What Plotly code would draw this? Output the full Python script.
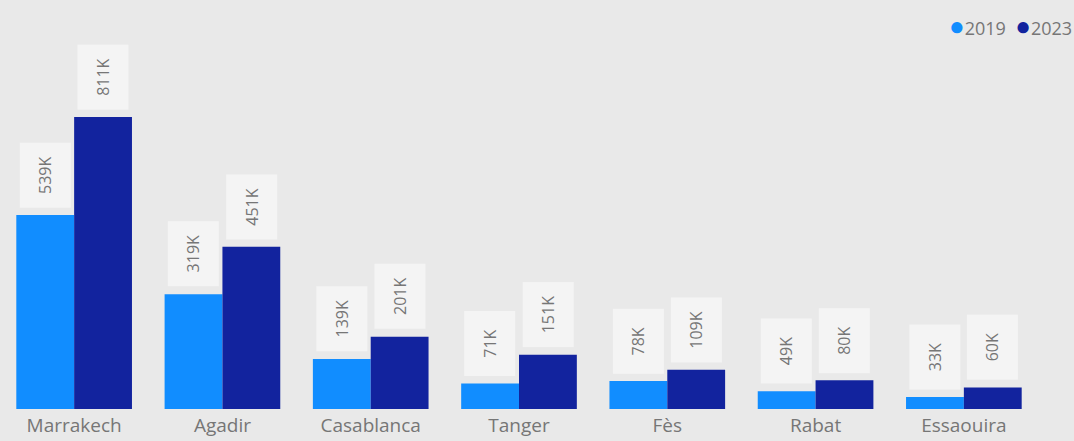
import plotly.graph_objects as go

# Visitors per city, 2019 vs 2023 (thousands)
cities = ["Marrakech", "Agadir", "Casablanca", "Tanger", "Fès", "Rabat", "Essaouira"]
visits_2019 = [539, 319, 139, 71, 78, 49, 33]
visits_2023 = [811, 451, 201, 151, 109, 80, 60]
years = ["2019", "2023"]

colors = {"2019": "#118DFF", "2023": "#12239E"}
bg = "#e9e9e9"
font_family = "Open Sans, Noto Sans, sans-serif"
grey = "#767676"

W, H = 1074, 441
margin = dict(l=0, r=36, t=80, b=32)
bargap = 0.22

traces = []
for year, vals in zip(years, [visits_2019, visits_2023]):
    traces.append(go.Bar(x=cities, y=vals, name=year, marker=dict(color=colors[year], line=dict(width=0)),
                         showlegend=False, hoverinfo="skip"))

fig = go.Figure(traces)

# value labels, rotated, with light box
band = (W - margin["l"] - margin["r"]) / len(cities)
half = band * (1 - bargap) / 4
for year, vals, shift in zip(years, [visits_2019, visits_2023], [-half, half]):
    for c, v in zip(cities, vals):
        fig.add_annotation(x=c, y=v, text=f"{v}K", textangle=-90, showarrow=False,
                           xshift=shift, yshift=7, yanchor="bottom", xanchor="center",
                           width=58, height=44, align="center", valign="middle",
                           bgcolor="#f4f4f4", borderpad=3,
                           font=dict(size=16, color=grey, family=font_family))

# legend drawn as text with coloured dots
legend_text = "  ".join(f"<span style='color:{colors[y]};font-size:26px'>●</span>{y}" for y in years)
fig.add_annotation(xref="paper", yref="paper", x=1.0, xshift=margin["r"], y=1.0, yshift=55,
                   xanchor="right", yanchor="middle", showarrow=False, text=legend_text,
                   font=dict(size=18, color=grey, family=font_family))

fig.update_layout(
    width=W, height=H,
    margin=margin,
    paper_bgcolor=bg, plot_bgcolor=bg,
    barmode="group", bargap=bargap, bargroupgap=0,
    font=dict(family=font_family, color=grey, size=19),
    showlegend=False,
    xaxis=dict(showgrid=False, showline=False, ticks="", ticklabelstandoff=3, automargin=False,
               tickfont=dict(size=19, color=grey)),
    yaxis=dict(range=[0, 914], visible=False, showgrid=False, zeroline=False, automargin=False),
)

fig.write_html("out.html", config={"displayModeBar": False},
               post_script="document.body.style.margin='0';")
